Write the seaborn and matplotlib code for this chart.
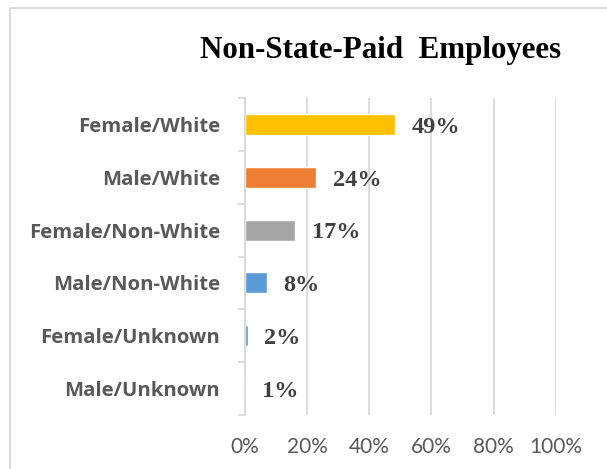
import numpy as np
import matplotlib
matplotlib.use('Agg')
import matplotlib.pyplot as plt
import seaborn as sns
from matplotlib.patches import Rectangle

# data
categories = ['Female/White', 'Male/White', 'Female/Non-White',
              'Male/Non-White', 'Female/Unknown', 'Male/Unknown']
bar_values = [48.4, 22.9, 16.1, 7.1, 0.9, 0.1]
value_labels = ['49%', '24%', '17%', '8%', '2%', '1%']
bar_colors = ['#FFC000', '#ED7D31', '#A5A5A5', '#5B9BD5', '#5B9BD5', '#A5A5A5']
x_ticks = [0, 20, 40, 60, 80, 100]
x_tick_labels = ['0%', '20%', '40%', '60%', '80%', '100%']

sns.set_theme(style='white')
plt.rcParams['font.family'] = ['Lato', 'DejaVu Sans']

grid_col = '#D9D9D9'

fig = plt.figure(figsize=(6.07, 4.69), dpi=100)
ax = fig.add_axes([245 / 607, 1 - 415 / 469, 310.7 / 607, 317 / 469])

sns.barplot(x=bar_values, y=categories, hue=categories, palette=bar_colors,
            legend=False, width=0.4, saturation=1, orient='h', ax=ax)

for cont, lab in zip(ax.containers, value_labels):
    txts = ax.bar_label(cont, labels=[lab], padding=12, fontsize=17.5, fontweight='bold',
                        color='#404040', family='Liberation Serif')
    for t in txts:
        t.xyann = (t.xyann[0], -2)

ax.set_xlim(0, 100)
ax.set_ylim(len(categories) - 0.5, -0.5)
ax.set_xticks(x_ticks)
ax.set_xticklabels(x_tick_labels)
ax.set_xlabel('')
ax.set_ylabel('')
ax.grid(axis='x', color=grid_col, linewidth=1.3)
ax.set_axisbelow(True)

for side in ['top', 'right', 'bottom']:
    ax.spines[side].set_visible(False)
ax.spines['left'].set_color(grid_col)
ax.spines['left'].set_linewidth(1.3)

ax.tick_params(axis='x', length=0, pad=16, labelsize=15, labelcolor='#595959')
ax.set_yticks(range(len(categories)), labels=categories, fontweight='bold',
              fontsize=14.6, family='Open Sans')
ax.tick_params(axis='y', which='major', length=0, pad=18, labelcolor='#595959')
ax.set_yticks(np.arange(-0.5, len(categories)), minor=True)
ax.tick_params(axis='y', which='minor', length=5, width=1.3, color=grid_col, left=True)

fig.text(381 / 607, 1 - 58 / 469, 'Non-State-Paid  Employees', ha='center', va='baseline',
         fontsize=22.3, fontweight='bold', family='Liberation Serif', color='black')

# outer chart border (cropped on right and bottom)
fig.patches.append(Rectangle((10 / 607, -0.2), 1.2, 1.2 - 8 / 469,
                             transform=fig.transFigure, fill=False,
                             edgecolor=grid_col, linewidth=1.3))

fig.savefig('out.png', dpi=100)
